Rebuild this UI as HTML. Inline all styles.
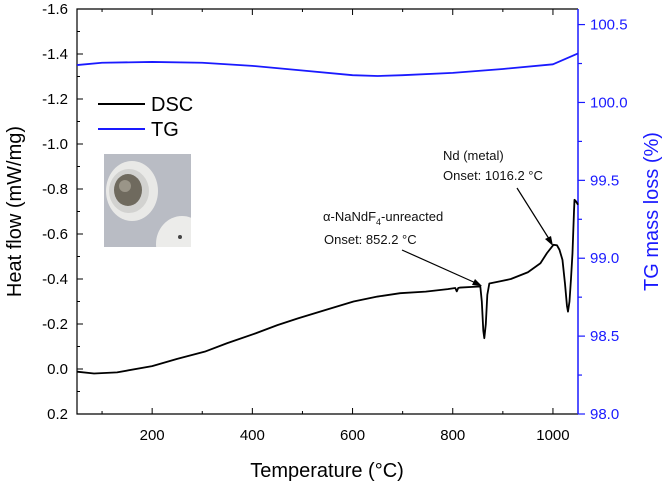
<!DOCTYPE html>
<html><head><meta charset="utf-8"><style>
html,body{margin:0;padding:0;background:#fff;}
svg{display:block;font-family:"Liberation Sans",sans-serif;}
</style></head><body>
<svg id="chart" width="666" height="484" viewBox="0 0 666 484">
<defs><clipPath id="pc"><rect x="104" y="154" width="87" height="93"/></clipPath></defs>
<g id="grid-layer"></g>
<g id="photo" clip-path="url(#pc)">
  <rect x="104" y="154" width="87" height="93" fill="#b9bcc4"/>
  <ellipse cx="132" cy="191" rx="26" ry="30" fill="#e9e9e7"/>
  <ellipse cx="129" cy="191" rx="20" ry="22" fill="#d2d2d0"/>
  <ellipse cx="128" cy="190" rx="14" ry="16" fill="#6f6a5e"/>
  <ellipse cx="125" cy="186" rx="6" ry="6" fill="#9a9588"/>
  <ellipse cx="182" cy="244" rx="26" ry="28" fill="#ececea"/>
  <circle cx="180" cy="237" r="2" fill="#444"/>
</g>
<g id="axes-layer"></g>
<g id="series-layer"></g>
<g id="ann" font-size="13" fill="#111">
  <text x="443" y="160">Nd (metal)</text>
  <text x="443" y="180">Onset: 1016.2 °C</text>
  <text x="323" y="221">α-NaNdF<tspan font-size="9" dy="4">4</tspan><tspan dy="-4">-unreacted</tspan></text>
  <text x="324" y="244">Onset: 852.2 °C</text>
  <line x1="517" y1="188" x2="551" y2="242" stroke="#000" stroke-width="1.2"/>
  <polygon points="553,246 545,239 551,236" fill="#000"/>
  <line x1="402" y1="250" x2="478" y2="284" stroke="#000" stroke-width="1.2"/>
  <polygon points="482,286 472,285 475,279" fill="#000"/>
</g>
<g id="legend" font-size="20">
  <line x1="98" y1="104" x2="145" y2="104" stroke="#000" stroke-width="2"/>
  <text x="151" y="111">DSC</text>
  <line x1="98" y1="129" x2="145" y2="129" stroke="#1a1aff" stroke-width="2"/>
  <text x="151" y="136">TG</text>
</g>
</svg>
<script>
const dscT=[50,84,130,200,250,305,350,407,450,491,550,602,650,695,746,790,805,808,811,815,840,855,858,861,863,866,869,873,895,916,950,975,988,1001,1008,1013,1019,1024,1028,1030,1033,1036,1039,1042,1043,1046,1050];
const dscV=[0.012,0.02,0.015,-0.013,-0.045,-0.077,-0.115,-0.159,-0.195,-0.225,-0.265,-0.30,-0.322,-0.337,-0.344,-0.355,-0.36,-0.345,-0.36,-0.362,-0.365,-0.367,-0.30,-0.17,-0.137,-0.20,-0.33,-0.38,-0.39,-0.40,-0.43,-0.47,-0.515,-0.552,-0.55,-0.53,-0.485,-0.38,-0.28,-0.255,-0.30,-0.40,-0.515,-0.70,-0.752,-0.745,-0.73];
const tgT=[50,100,200,300,400,500,600,650,700,800,900,1000,1050];
const tgV=[100.24,100.255,100.26,100.255,100.235,100.205,100.175,100.17,100.175,100.19,100.215,100.245,100.315];
const xTicks=[200,400,600,800,1000];
const yTicks=[-1.6,-1.4,-1.2,-1.0,-0.8,-0.6,-0.4,-0.2,0.0,0.2];
const rTicks=[98.0,98.5,99.0,99.5,100.0,100.5];
const L=77,R=578,T=9,B=414;
const X=v=>L+(v-50)/1000*(R-L);
const Y=v=>T+(v+1.6)/1.8*(B-T);
const YR=v=>B-(v-98)/2.6*(B-T);
const NS="http://www.w3.org/2000/svg";
function mk(tag,at,parent){const e=document.createElementNS(NS,tag);for(const k in at)e.setAttribute(k,at[k]);parent.appendChild(e);return e;}
const ax=document.getElementById('axes-layer'),se=document.getElementById('series-layer');
const frame=mk('path',{d:`M${R},${T}H${L}V${B}H${R}`,fill:'none',stroke:'#000','stroke-width':1.2},ax);


const rax=mk('line',{x1:R,y1:T,x2:R,y2:B,stroke:'#1a1aff','stroke-width':1.5},ax);


for(let v=100;v<=1000;v+=100){const x=X(v);const len=v%200===0?6:3;
 mk('line',{x1:x,y1:B,x2:x,y2:B-len,stroke:'#000'},ax);mk('line',{x1:x,y1:T,x2:x,y2:T+len,stroke:'#000'},ax);}
xTicks.forEach(v=>{const t=mk('text',{x:X(v),y:440,'text-anchor':'middle','font-size':15},ax);t.textContent=v;
 
 });
for(let i=0;i<=18;i++){const v=-1.6+i*0.1;const len=i%2===0?6:3;mk('line',{x1:L,y1:Y(v),x2:L+len,y2:Y(v),stroke:'#000'},ax);}
yTicks.forEach(v=>{const t=mk('text',{x:68,y:Y(v)+5,'text-anchor':'end','font-size':15},ax);t.textContent=v.toFixed(1);
 
 });
for(let i=0;i<=10;i++){const v=98+i*0.25;const len=i%2===0?7:4;mk('line',{x1:R,y1:YR(v),x2:R+len,y2:YR(v),stroke:'#1a1aff','stroke-width':1.2},ax);}
rTicks.forEach(v=>{const t=mk('text',{x:590,y:YR(v)+5,'font-size':15,fill:'#1a1aff'},ax);t.textContent=v.toFixed(1);
 
 });
const xt=mk('text',{x:327,y:477,'text-anchor':'middle','font-size':20},ax);xt.textContent='Temperature (°C)';


const yt=mk('text',{x:0,y:0,'text-anchor':'middle','font-size':20,transform:`translate(21,${(T+B)/2}) rotate(-90)`},ax);yt.textContent='Heat flow (mW/mg)';


const rt=mk('text',{x:0,y:0,'text-anchor':'middle','font-size':20,fill:'#1a1aff',transform:`translate(658,${(T+B)/2}) rotate(-90)`},ax);rt.textContent='TG mass loss (%)';


const tg=mk('polyline',{points:tgT.map((t,i)=>X(t)+','+YR(tgV[i])).join(' '),fill:'none',stroke:'#1a1aff','stroke-width':1.8,'stroke-linejoin':'round'},se);


const dsc=mk('polyline',{points:dscT.map((t,i)=>X(t)+','+Y(dscV[i])).join(' '),fill:'none',stroke:'#000','stroke-width':1.8,'stroke-linejoin':'round'},se);


</script>
</body></html>
